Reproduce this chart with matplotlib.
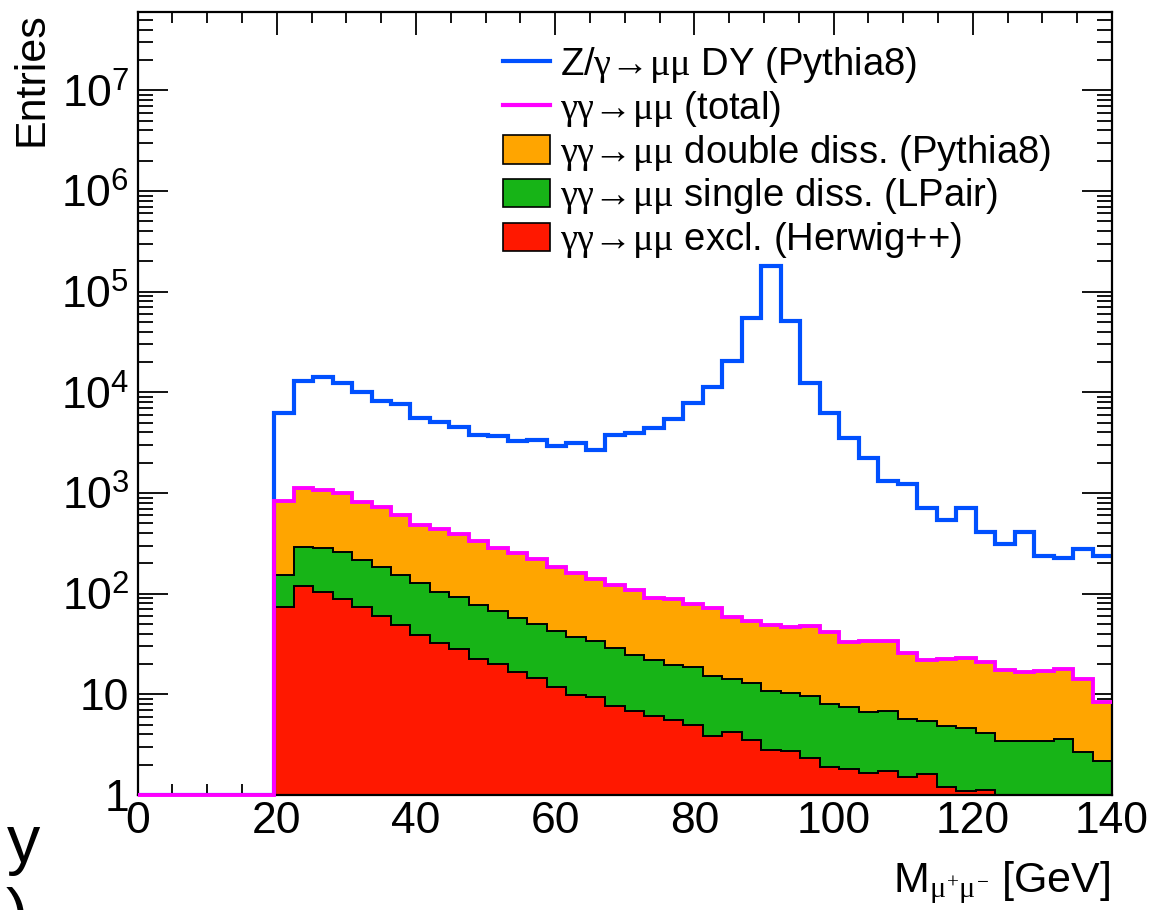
import numpy as np
import matplotlib
matplotlib.use("Agg")
import matplotlib.pyplot as plt
from matplotlib.ticker import MultipleLocator, LogLocator, FuncFormatter, NullFormatter
from matplotlib.lines import Line2D
from matplotlib.patches import Patch

plt.rcParams['font.family'] = ['Liberation Sans', 'DejaVu Sans']
plt.rcParams['mathtext.fontset'] = 'custom'
plt.rcParams['mathtext.rm'] = 'Liberation Serif'
plt.rcParams['mathtext.it'] = 'Liberation Serif'
plt.rcParams['mathtext.bf'] = 'Liberation Serif:bold'
plt.rcParams['mathtext.sf'] = 'Liberation Sans'

# ---- data: 50 bins of 2.8 GeV from 0 to 140 ----
bin_edges_lo = 0.0
bin_edges_hi = 140.0
n_bins = 50

# Z/gamma -> mumu DY (Pythia8)
dy = [0, 0, 0, 0, 0, 0, 0,
      6240, 13060, 14190, 12360, 10000, 8200, 7730, 5500, 5130, 4540,
      3775, 3690, 3295, 3370, 2900, 3120, 2667, 3780, 3900, 4470,
      5400, 7780, 11200, 20700, 54400, 180800, 50800, 12270, 6260, 3505,
      2205, 1324, 1220, 710, 540, 716, 406, 309, 406, 236,
      224, 279, 236]

# gamma gamma -> mumu exclusive (Herwig++)
excl = [0, 0, 0, 0, 0, 0, 0,
        74, 118, 104, 88.5, 73, 60, 49, 38.6, 32.5, 27.9,
        22.6, 19.8, 16.8, 14.4, 11.9, 9.8, 9.4, 7.7, 6.8, 6.1,
        5.5, 5.0, 3.84, 4.27, 3.48, 2.77, 2.75, 2.32, 1.88, 1.82,
        1.65, 1.74, 1.51, 1.6, 1.19, 1.10, 1.13, 0, 0, 0,
        0, 0, 0]

# gamma gamma -> mumu single dissociative (LPair)
single = [0, 0, 0, 0, 0, 0, 0,
          78, 170, 179, 170.5, 144, 122, 105, 89.4, 72.5, 64.1,
          55.4, 47.2, 40.2, 35.6, 31.1, 27.2, 24.1, 21.1, 17.9, 15.6,
          14.2, 13.5, 11.46, 10.03, 9.62, 8.13, 7.65, 7.28, 6.22, 5.58,
          4.95, 5.16, 4.19, 3.8, 3.61, 3.5, 2.97, 3.4, 3.4, 3.4,
          3.6, 2.67, 2.2]

# gamma gamma -> mumu double dissociative (Pythia8)
double = [0, 0, 0, 0, 0, 0, 0,
          687, 832, 795, 734, 598, 539, 451, 357, 335, 298,
          255, 216, 198, 169, 141, 122, 105.5, 94.2, 83.3, 69.3,
          68.3, 60.5, 57.3, 44.7, 40.5, 38.4, 36.3, 37.9, 33.6, 25.6,
          27.1, 26.8, 20.2, 16.5, 17.6, 18.1, 17.0, 14.0, 13.4, 13.6,
          14.1, 11.43, 6.1]

labels = [r"Z/$\gamma$→$\mu\mu$ DY (Pythia8)",
          r"$\gamma\gamma$→$\mu\mu$ (total)",
          r"$\gamma\gamma$→$\mu\mu$ double diss. (Pythia8)",
          r"$\gamma\gamma$→$\mu\mu$ single diss. (LPair)",
          r"$\gamma\gamma$→$\mu\mu$ excl. (Herwig++)"]

c_dy = '#0050ff'
c_tot = '#ff00ff'
c_double = '#ffa500'
c_single = '#17b417'
c_excl = '#ff1800'

edges = np.linspace(bin_edges_lo, bin_edges_hi, n_bins + 1)
excl_a = np.array(excl, float)
single_a = np.array(single, float)
double_a = np.array(double, float)
dy_a = np.array(dy, float)
cum_red = excl_a
cum_green = excl_a + single_a
cum_total = excl_a + single_a + double_a

ymin, ymax = 1.0, 6e7

fig = plt.figure(figsize=(11.55, 9.10), dpi=100)
ax = fig.add_axes([0.1192, 0.1264, 0.8436, 0.8604])
ax.set_yscale('log')

ax.stairs(cum_total, edges, fill=True, baseline=ymin * 1e-3, facecolor=c_double,
          edgecolor='none', zorder=2)
ax.stairs(cum_total, edges, baseline=None, color='black', linewidth=1.4, zorder=2.1)
ax.stairs(cum_green, edges, fill=True, baseline=ymin * 1e-3, facecolor=c_single,
          edgecolor='none', zorder=2.2)
ax.stairs(cum_green, edges, baseline=None, color='black', linewidth=1.4, zorder=2.3)
ax.stairs(cum_red, edges, fill=True, baseline=ymin * 1e-3, facecolor=c_excl,
          edgecolor='none', zorder=2.4)
ax.stairs(np.where(cum_red > 0, cum_red, ymin * 1e-3), edges, baseline=None,
          color='black', linewidth=1.4, zorder=2.5)

ax.stairs(np.maximum(dy_a, ymin), edges, baseline=None, color=c_dy, linewidth=3.0, zorder=3)
ax.stairs(np.maximum(cum_total, ymin), edges, baseline=None, color=c_tot, linewidth=2.8,
          zorder=6, clip_on=False)

ax.set_xlim(0, 140)
ax.set_ylim(ymin, ymax)

ax.xaxis.set_major_locator(MultipleLocator(20))
ax.xaxis.set_minor_locator(MultipleLocator(5))
ax.yaxis.set_major_locator(LogLocator(base=10, numticks=20))
ax.yaxis.set_minor_locator(LogLocator(base=10, subs=np.arange(2, 10), numticks=20))
ax.yaxis.set_minor_formatter(NullFormatter())


def yfmt(v, pos):
    e = int(round(np.log10(v)))
    if e == 0:
        return "1"
    if e == 1:
        return "10"
    return r"$\mathdefault{10^{%d}}$" % e


ax.yaxis.set_major_formatter(FuncFormatter(yfmt))
ax.tick_params(which='both', direction='in', top=True, right=True, width=1.3, colors='black')
ax.tick_params(axis='x', which='major', length=16.5, labelsize=32, pad=4)
ax.tick_params(axis='x', which='minor', length=8)
ax.tick_params(axis='y', which='major', length=21.5, labelsize=32, pad=6)
ax.tick_params(axis='y', which='minor', length=10.5)
for s in ax.spines.values():
    s.set_linewidth(1.6)
    s.set_zorder(5)

ax.set_xlabel(r"M$_{\mu^{+}\mu^{-}}$ [GeV]", fontsize=31, loc='right')
ax.xaxis.set_label_coords(0.998, -0.083)
ax.set_ylabel("Entries", fontsize=31, loc='top')
ax.yaxis.set_label_coords(-0.088, 1.0)

handles = [Line2D([], [], color=c_dy, linewidth=3.0),
           Line2D([], [], color=c_tot, linewidth=3.0),
           Patch(facecolor=c_double, edgecolor='black', linewidth=1.2),
           Patch(facecolor=c_single, edgecolor='black', linewidth=1.2),
           Patch(facecolor=c_excl, edgecolor='black', linewidth=1.2)]
leg = ax.legend(handles, labels, loc='upper left', bbox_to_anchor=(0.375, 0.958),
                frameon=False, fontsize=27.5, handlelength=1.23, handleheight=0.78,
                handletextpad=0.25, labelspacing=0.1, borderpad=0, borderaxespad=0)

# cropped fragments of neighbouring text at the figure's lower left
fig.text(0.035, 1 - 845 / 910, "y", fontsize=48, ha='right', va='center')
fig.text(0.024, 1 - 918 / 910, ")", fontsize=48, ha='right', va='center')

fig.savefig("out.png", dpi=100)
